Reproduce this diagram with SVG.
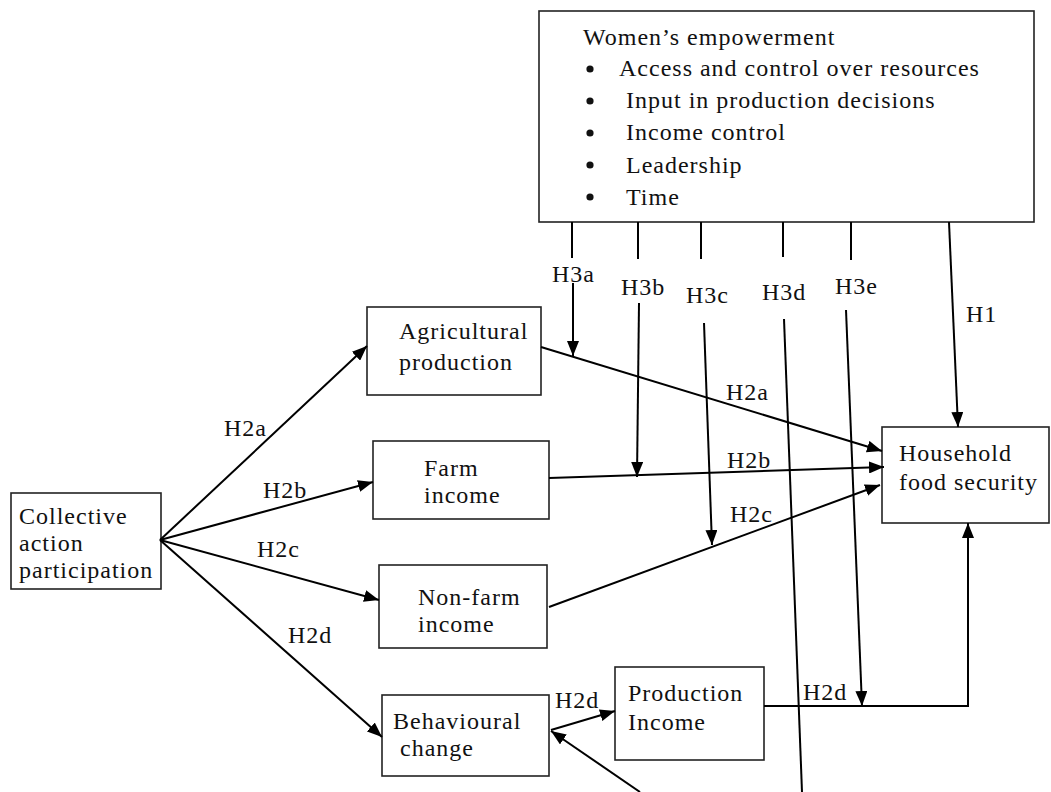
<svg xmlns="http://www.w3.org/2000/svg" width="1051" height="792" viewBox="0 0 1051 792">
  <style>
    text { font-family: "Liberation Serif", "Times New Roman", serif; font-size: 24px; letter-spacing: 1px; fill: #111; }
    .box { fill: #fff; stroke: #222; stroke-width: 1.6; }
    .edge { fill: none; stroke: #000; stroke-width: 2; }
    .arrow { marker-end: url(#head); }
  </style>
  <defs>
    <marker id="head" markerUnits="userSpaceOnUse" markerWidth="16" markerHeight="12" refX="15" refY="6" orient="auto">
      <path d="M0,0 L15,6 L0,12 z" fill="#000"/>
    </marker>
  </defs>
  <rect width="1051" height="792" fill="#fff"/>

  <!-- Women's empowerment -->
  <g id="node-empowerment">
    <rect class="box" x="539" y="11" width="495" height="211"/>
    <text x="583" y="45">Women’s empowerment</text>
    <circle cx="590" cy="69" r="3.6" fill="#111"/>
    <circle cx="590" cy="101" r="3.6" fill="#111"/>
    <circle cx="590" cy="133" r="3.6" fill="#111"/>
    <circle cx="590" cy="165" r="3.6" fill="#111"/>
    <circle cx="590" cy="197" r="3.6" fill="#111"/>
    <text x="619" y="76">Access and control over resources</text>
    <text x="626" y="108">Input in production decisions</text>
    <text x="626" y="140">Income control</text>
    <text x="626" y="173">Leadership</text>
    <text x="626" y="205">Time</text>
  </g>

  <g id="node-collective">
    <rect class="box" x="11" y="493" width="150" height="96"/>
    <text x="19" y="524">Collective</text>
    <text x="19" y="551">action</text>
    <text x="19" y="578">participation</text>
  </g>

  <g id="node-agri">
    <rect class="box" x="367" y="307" width="174" height="88"/>
    <text x="399" y="339">Agricultural</text>
    <text x="399" y="370">production</text>
  </g>

  <g id="node-farm">
    <rect class="box" x="373" y="441" width="176" height="78"/>
    <text x="424" y="476">Farm</text>
    <text x="424" y="503">income</text>
  </g>

  <g id="node-nonfarm">
    <rect class="box" x="379" y="565" width="168" height="83"/>
    <text x="418" y="605">Non-farm</text>
    <text x="418" y="632">income</text>
  </g>

  <g id="node-behaviour">
    <rect class="box" x="382" y="695" width="167" height="81"/>
    <text x="393" y="729">Behavioural</text>
    <text x="400" y="756">change</text>
  </g>

  <g id="node-prodincome">
    <rect class="box" x="615" y="667" width="149" height="93"/>
    <text x="628" y="701">Production</text>
    <text x="628" y="730">Income</text>
  </g>

  <g id="node-foodsecurity">
    <rect class="box" x="882" y="427" width="167" height="96"/>
    <text x="899" y="461">Household</text>
    <text x="899" y="490">food security</text>
  </g>

  <g id="connectors">
    <!-- from collective action -->
    <path class="edge arrow" d="M160,540 L367,346"/>
    <path class="edge arrow" d="M160,540 L373,482"/>
    <path class="edge arrow" d="M160,540 L379,600"/>
    <path class="edge arrow" d="M160,540 L382,737"/>
    <!-- into household food security -->
    <path class="edge arrow" d="M541,347 L882,451"/>
    <path class="edge arrow" d="M549,478 L884,467"/>
    <path class="edge arrow" d="M549,607 L880,485"/>
    <path class="edge arrow" d="M764,706 L968,706 L968,523"/>
    <path class="edge arrow" d="M949,222 L958,427"/>
    <!-- behavioural change chain -->
    <path class="edge arrow" d="M551,730 L615,711"/>
    <path class="edge arrow" d="M640,792 L551,731"/>
    <!-- moderation stubs -->
    <path class="edge" d="M572,222 L572,258"/>
    <path class="edge" d="M638,222 L638,259"/>
    <path class="edge" d="M701,222 L701,259"/>
    <path class="edge" d="M783,222 L783,257"/>
    <path class="edge" d="M851,222 L851,260"/>
    <path class="edge arrow" d="M573,283 L573,356"/>
    <path class="edge arrow" d="M639,303 L637,477"/>
    <path class="edge arrow" d="M704,323 L712,545"/>
    <path class="edge" d="M784,319 L802,792"/>
    <path class="edge arrow" d="M846,310 L862,706"/>
  </g>

  <g id="labels">
    <text x="552" y="282">H3a</text>
    <text x="621" y="295">H3b</text>
    <text x="686" y="303">H3c</text>
    <text x="762" y="300">H3d</text>
    <text x="835" y="294">H3e</text>
    <text x="966" y="322">H1</text>
    <text x="726" y="400">H2a</text>
    <text x="727" y="468">H2b</text>
    <text x="730" y="522">H2c</text>
    <text x="224" y="436">H2a</text>
    <text x="263" y="498">H2b</text>
    <text x="257" y="557">H2c</text>
    <text x="288" y="643">H2d</text>
    <text x="555" y="708">H2d</text>
    <text x="803" y="700">H2d</text>
  </g>
</svg>
